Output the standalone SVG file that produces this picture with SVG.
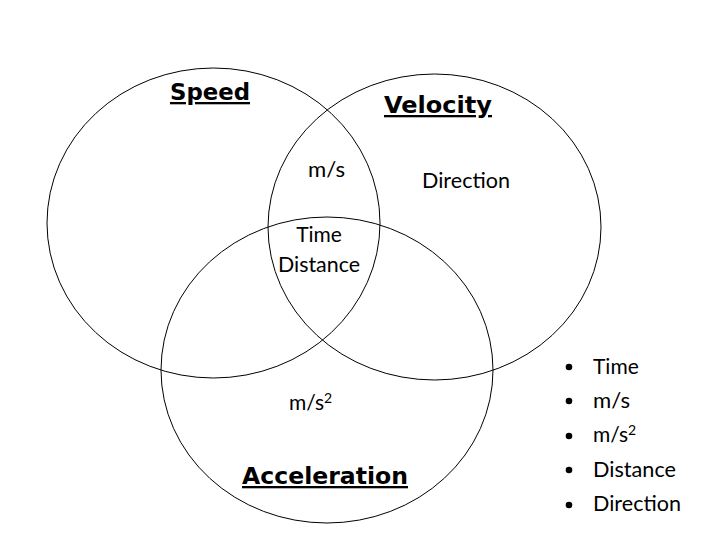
<svg xmlns="http://www.w3.org/2000/svg" width="720" height="540" viewBox="0 0 720 540">
<style>
.c{fill:none;stroke:#000;stroke-width:1}
.t{font-family:"DejaVu Sans","Liberation Sans",sans-serif;font-weight:bold;font-size:23px;fill:#000;text-decoration:underline}
.b{font-family:Lato,"Open Sans","Liberation Sans",sans-serif;font-size:21px;fill:#000}
.s{font-size:14px}
</style>
<rect width="720" height="540" fill="#fff"/>
<g id="speed">
<ellipse class="c" cx="213.5" cy="223" rx="166.5" ry="155"/>
<text class="t" x="170" y="100" textLength="80" lengthAdjust="spacingAndGlyphs">Speed</text>
</g>
<g id="velocity">
<ellipse class="c" cx="434.5" cy="227" rx="166.5" ry="153"/>
<text class="t" x="384" y="113" textLength="108" lengthAdjust="spacingAndGlyphs">Velocity</text>
</g>
<g id="acceleration">
<ellipse class="c" cx="327" cy="370" rx="166" ry="153"/>
<text class="t" x="242" y="484" textLength="166" lengthAdjust="spacingAndGlyphs">Acceleration</text>
</g>
<g id="labels">
<text class="b" x="308" y="177" textLength="37" lengthAdjust="spacingAndGlyphs">m/s</text>
<text class="b" x="422" y="188" textLength="88" lengthAdjust="spacingAndGlyphs">Direction</text>
<text class="b" x="319" y="242" text-anchor="middle">Time</text>
<text class="b" x="278" y="272" textLength="82" lengthAdjust="spacingAndGlyphs">Distance</text>
<text class="b" x="289" y="410">m/s<tspan class="s" dy="-7">2</tspan></text>
</g>
<g id="list">
<circle cx="569" cy="367" r="3.3"/>
<circle cx="569" cy="401" r="3.3"/>
<circle cx="569" cy="436" r="3.3"/>
<circle cx="569" cy="470" r="3.3"/>
<circle cx="569" cy="505" r="3.3"/>
<text class="b" x="593" y="374">Time</text>
<text class="b" x="593" y="408" textLength="37" lengthAdjust="spacingAndGlyphs">m/s</text>
<text class="b" x="593" y="442">m/s<tspan class="s" dy="-7">2</tspan></text>
<text class="b" x="593" y="477" textLength="83" lengthAdjust="spacingAndGlyphs">Distance</text>
<text class="b" x="593" y="511" textLength="88" lengthAdjust="spacingAndGlyphs">Direction</text>
</g>
</svg>
